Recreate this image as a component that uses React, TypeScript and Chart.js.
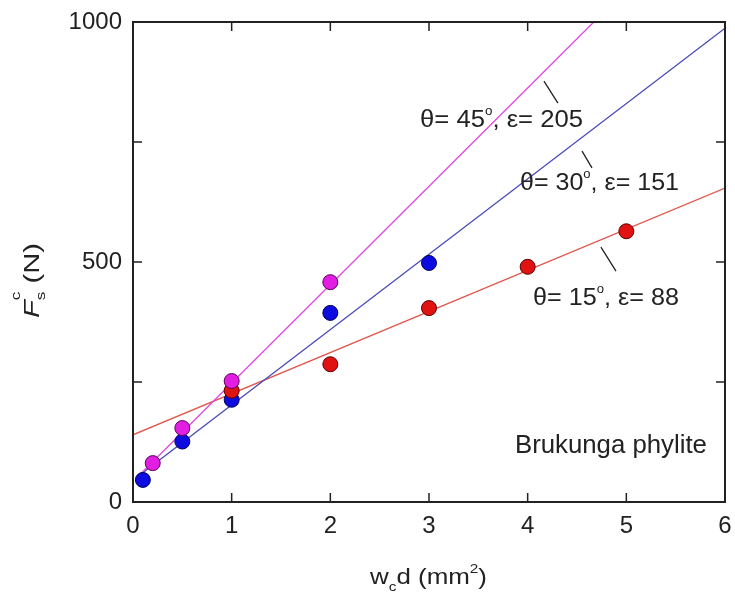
import React, { useEffect, useRef } from "react";
import { Chart, registerables } from "chart.js";

Chart.register(...registerables);

// ---- measured data ----
const blueX = [0.1, 0.5, 1, 2, 3];
const blueY = [46, 126, 213, 394, 498];
const magentaX = [0.2, 0.5, 1, 2];
const magentaY = [81, 154, 252, 458];
const redX = [1, 2, 3, 4, 5];
const redY = [232, 287, 404, 490, 564];

// fitted lines (endpoints)
const redFitX = [0, 6];
const redFitY = [140, 654];
const blueFitX = [0.05, 6];
const blueFitY = [53, 987];
const magentaFitX = [0.05, 4.67];
const magentaFitY = [53, 1000];

const xTickValues = [0, 1, 2, 3, 4, 5, 6];
const yTickValues = [0, 250, 500, 750, 1000];
const yTickLabels = ["0", "", "500", "", "1000"];

const annoTexts = ["θ= 45", "θ= 30", "θ= 15"];
const annoTails = [", ε= 205", ", ε= 151", ", ε= 88"];
const annoX = [2.909, 3.922, 4.054];
const annoY = [781, 650, 410];
const annoWidth = [163, 159, 146];
const leaderX0 = [4.165, 4.551, 4.743];
const leaderY0 = [877, 731, 531];
const leaderX1 = [4.307, 4.652, 4.895];
const leaderY1 = [831, 696, 481];
const sampleLabel = "Brukunga phylite";
const sampleX = 3.871;
const sampleY = 102;

const FONT = 'Arial, "Liberation Sans", Helvetica, sans-serif';

const toPts = (xs: number[], ys: number[]) => xs.map((x, i) => ({ x, y: ys[i] }));

type Seg = { t: string; size: number; dy?: number; italic?: boolean; noAdv?: boolean };

function drawRich(ctx: CanvasRenderingContext2D, segs: Seg[], x: number, y: number, width?: number) {
  ctx.save();
  let total = 0;
  for (const s of segs) {
    ctx.font = `${s.italic ? "italic " : ""}${s.size}px ${FONT}`;
    if (!s.noAdv) total += ctx.measureText(s.t).width;
  }
  const sx = width ? width / total : 1;
  ctx.translate(x, y);
  ctx.scale(sx, 1);
  ctx.textBaseline = "alphabetic";
  ctx.textAlign = "left";
  let cx = 0;
  for (const s of segs) {
    ctx.font = `${s.italic ? "italic " : ""}${s.size}px ${FONT}`;
    ctx.fillText(s.t, cx, s.dy || 0);
    if (!s.noAdv) cx += ctx.measureText(s.t).width;
  }
  ctx.restore();
}

const decorPlugin = {
  id: "decor",
  afterDraw(chart: any) {
    const ctx: CanvasRenderingContext2D = chart.ctx;
    const { left, right, top, bottom } = chart.chartArea;
    const xs = chart.scales.x;
    const ys = chart.scales.y;
    ctx.save();
    ctx.strokeStyle = "#222";
    ctx.fillStyle = "#222";
    // frame
    ctx.lineWidth = 2;
    ctx.strokeRect(left, top, right - left, bottom - top);
    // inward ticks
    ctx.lineWidth = 1.5;
    const tl = 9;
    ctx.beginPath();
    for (const v of xTickValues) {
      const px = xs.getPixelForValue(v);
      ctx.moveTo(px, bottom);
      ctx.lineTo(px, bottom - tl);
      ctx.moveTo(px, top);
      ctx.lineTo(px, top + tl);
    }
    for (const v of yTickValues) {
      const py = ys.getPixelForValue(v);
      ctx.moveTo(left, py);
      ctx.lineTo(left + tl, py);
      ctx.moveTo(right, py);
      ctx.lineTo(right - tl, py);
    }
    ctx.stroke();

    // leader lines
    ctx.lineWidth = 1.3;
    ctx.beginPath();
    for (let i = 0; i < leaderX0.length; i++) {
      ctx.moveTo(xs.getPixelForValue(leaderX0[i]), ys.getPixelForValue(leaderY0[i]));
      ctx.lineTo(xs.getPixelForValue(leaderX1[i]), ys.getPixelForValue(leaderY1[i]));
    }
    ctx.stroke();

    // annotations
    for (let i = 0; i < annoTexts.length; i++) {
      drawRich(
        ctx,
        [
          { t: annoTexts[i], size: 23 },
          { t: "o", size: 12, dy: -12 },
          { t: annoTails[i], size: 23 },
        ],
        xs.getPixelForValue(annoX[i]),
        ys.getPixelForValue(annoY[i]),
        annoWidth[i]
      );
    }
    drawRich(ctx, [{ t: sampleLabel, size: 25 }], xs.getPixelForValue(sampleX), ys.getPixelForValue(sampleY), 192);

    // x axis title
    drawRich(
      ctx,
      [
        { t: "w", size: 22 },
        { t: "c", size: 13, dy: 7 },
        { t: "d (mm", size: 22 },
        { t: "2", size: 13, dy: -11 },
        { t: ")", size: 22 },
      ],
      370,
      584,
      117
    );

    // y axis title (rotated)
    ctx.save();
    ctx.translate(38.5, 318);
    ctx.rotate(-Math.PI / 2);
    drawRich(ctx, [
      { t: "F", size: 22, italic: true },
      { t: "c", size: 13, dy: -19, noAdv: true },
      { t: "s", size: 13, dy: 6 },
      { t: " (N)", size: 22 },
    ], 0, 0, 75);
    ctx.restore();

    ctx.restore();
  },
};

export default function App() {
  const ref = useRef<HTMLCanvasElement>(null);
  useEffect(() => {
    const canvas = ref.current!;
    const pointDs = (label: string, xs: number[], ys: number[], fill: string, border: string, order: number) => ({
      label,
      data: toPts(xs, ys),
      backgroundColor: fill,
      borderColor: border,
      borderWidth: 1,
      pointRadius: 7.5,
      pointHoverRadius: 7.5,
      showLine: false,
      order,
    });
    const lineDs = (label: string, xs: number[], ys: number[], color: string, order: number) => ({
      label,
      data: toPts(xs, ys),
      borderColor: color,
      backgroundColor: color,
      borderWidth: 1.3,
      pointRadius: 0,
      showLine: true,
      fill: false,
      order,
    });
    const chart = new Chart(canvas, {
      type: "scatter",
      data: {
        datasets: [
          pointDs("θ=45°", magentaX, magentaY, "#e21ee2", "#5a005a", 0),
          pointDs("θ=15°", redX, redY, "#e01212", "#5a0000", 1),
          pointDs("θ=30°", blueX, blueY, "#0c0ce0", "#00005a", 2),
          lineDs("fit 45", magentaFitX, magentaFitY, "#e048e0", 3),
          lineDs("fit 30", blueFitX, blueFitY, "#4848b8", 4),
          lineDs("fit 15", redFitX, redFitY, "#e0584c", 5),
        ] as any,
      },
      options: {
        animation: false,
        responsive: false,
        devicePixelRatio: 1,
        layout: { padding: { top: 22, right: 10, left: 0, bottom: 0 } },
        plugins: { legend: { display: false }, tooltip: { enabled: false } },
        scales: {
          x: {
            type: "linear",
            min: 0,
            max: 6,
            afterFit: (s: any) => {
              s.height = 92;
              s.paddingLeft = 0;
              s.paddingRight = 0;
            },
            afterBuildTicks: (s: any) => {
              s.ticks = xTickValues.map((v) => ({ value: v }));
            },
            ticks: {
              font: { size: 24, family: FONT },
              color: "#222",
              padding: 10,
              maxRotation: 0,
              callback: (v: any) => String(v),
            },
            grid: { display: false, drawTicks: false },
            border: { display: false },
          },
          y: {
            type: "linear",
            min: 0,
            max: 1000,
            afterFit: (s: any) => {
              s.width = 133;
              s.paddingTop = 0;
              s.paddingBottom = 0;
            },
            afterBuildTicks: (s: any) => {
              s.ticks = yTickValues.map((v) => ({ value: v }));
            },
            ticks: {
              font: { size: 24, family: FONT },
              color: "#222",
              padding: 11,
              callback: (v: any) => yTickLabels[yTickValues.indexOf(Number(v))] ?? "",
            },
            grid: { display: false, drawTicks: false },
            border: { display: false },
          },
        },
      },
      plugins: [decorPlugin],
    });
    return () => chart.destroy();
  }, []);
  return (
    <div style={{ position: "fixed", left: 0, top: 0, width: 735, height: 594, background: "#fff" }}>
      <canvas ref={ref} width={735} height={594} style={{ width: 735, height: 594, display: "block" }} />
    </div>
  );
}
